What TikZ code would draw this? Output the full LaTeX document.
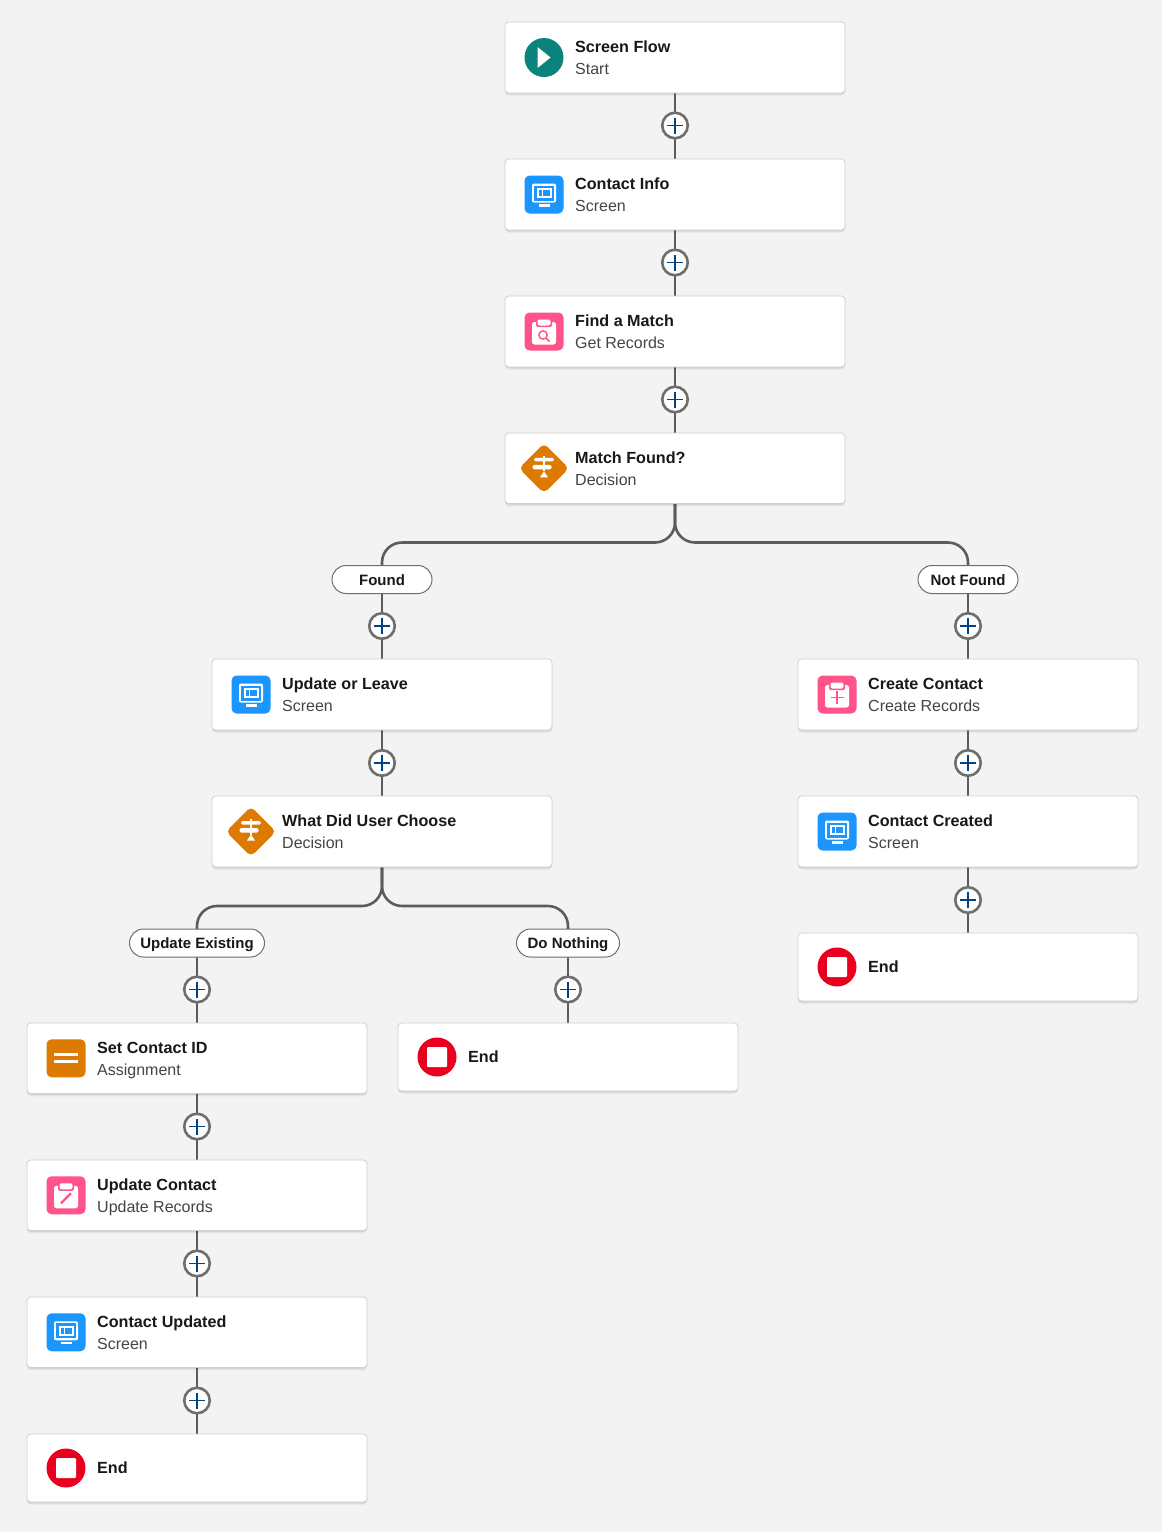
\documentclass[tikz,border=0pt]{standalone}
\usepackage{fontspec}
\setmainfont{Liberation Sans}
\usetikzlibrary{shadows}
\pgfdeclarelayer{edges}
\pgfsetlayers{edges,main}
\definecolor{pagebg}{HTML}{F3F3F3}
\definecolor{edgegray}{HTML}{5C5C5C}
\definecolor{ringgray}{HTML}{706E6B}
\definecolor{plusblue}{HTML}{014486}
\definecolor{cardline}{HTML}{D0D0D0}
\definecolor{startteal}{HTML}{0B827C}
\definecolor{screenblue}{HTML}{1B96FF}
\definecolor{recpink}{HTML}{FF538A}
\definecolor{decorange}{HTML}{DD7A01}
\definecolor{endred}{HTML}{EA001E}
\definecolor{titleink}{HTML}{181818}
\definecolor{subink}{HTML}{444444}
\tikzset{
  x=1pt,y=-1pt,
  cardbox/.style={rectangle,rounded corners=3.5pt,fill=white,draw=cardline,line width=.8pt,
    minimum width=340pt,inner sep=0pt,outer sep=0pt,
    general shadow={fill=black,opacity=.03,shadow yshift=-3pt},
    general shadow={fill=black,opacity=.05,shadow yshift=-2pt},
    general shadow={fill=black,opacity=.07,shadow yshift=-1pt}},
  cardtitle/.style={anchor=base west,inner sep=0pt,font=\fontsize{16.15}{19}\selectfont\bfseries,text=titleink},
  cardsub/.style={anchor=base west,inner sep=0pt,font=\fontsize{16}{19}\selectfont,text=subink},
  plusbtn/.style={circle,fill=white,draw=ringgray,line width=2.6pt,minimum size=25.5pt,inner sep=0pt,outer sep=0pt},
  pill/.style={rectangle,rounded corners=14pt,fill=white,draw=ringgray,line width=1pt,minimum height=28pt,
    inner sep=0pt,outer sep=0pt,text height=13pt,text depth=2pt,font=\fontsize{15}{18}\selectfont\bfseries,text=titleink},
  link/.style={draw=edgegray,line width=2.6pt},
}
\newcommand\iconStart[2]{\begin{scope}[shift={(#1,#2)}]
  \fill[startteal] (0,0) circle (19.5);
  \fill[white] (-6.5,-10.5) -- (6.5,0) -- (-6.5,10.5) -- cycle;
\end{scope}}
\newcommand\iconEnd[2]{\begin{scope}[shift={(#1,#2)}]
  \fill[endred] (0,0) circle (19.5);
  \fill[white,rounded corners=1pt] (-10,-10) rectangle (10,10);
\end{scope}}
\newcommand\iconScreen[2]{\begin{scope}[shift={(#1,#2)}]
  \fill[screenblue,rounded corners=5pt] (-19.5,-19) rectangle (19.5,19);
  \fill[white,rounded corners=2pt] (-12,-11) rectangle (12,8);
  \fill[screenblue] (-10,-9) rectangle (10,6);
  \fill[white] (-7.5,-6.5) rectangle (7.5,3.5);
  \fill[screenblue] (-5.5,-4.5) rectangle (-2.5,1.5);
  \fill[screenblue] (-1,-4.5) rectangle (5.5,1.5);
  \fill[white] (-5.5,9.5) rectangle (5.5,12);
\end{scope}}
\newcommand\iconClipBase{
  \fill[recpink,rounded corners=5pt] (-19.5,-19) rectangle (19.5,19);
  \fill[white,rounded corners=2.5pt] (-12,-9.5) rectangle (12,13);
  \fill[recpink,rounded corners=2pt] (-8,-13) rectangle (8,-4.5);
  \fill[white,rounded corners=2pt] (-6.5,-12) rectangle (6.5,-6);
}
\newcommand\iconGet[2]{\begin{scope}[shift={(#1,#2)}]
  \iconClipBase
  \draw[recpink,line width=1.4pt] (-1,3.5) circle (4.2);
  \draw[recpink,line width=1.6pt] (2,6.5) -- (5.5,10);
\end{scope}}
\newcommand\iconCreate[2]{\begin{scope}[shift={(#1,#2)}]
  \iconClipBase
  \draw[recpink,line width=1.4pt] (-6.5,3) -- (6.5,3) (0,-3.5) -- (0,9.5);
\end{scope}}
\newcommand\iconUpdate[2]{\begin{scope}[shift={(#1,#2)}]
  \iconClipBase
  \draw[recpink,line width=2.4pt] (-5,8) -- (5,-2);
\end{scope}}
\newcommand\iconDecision[2]{\begin{scope}[shift={(#1,#2)}]
  \fill[decorange,rounded corners=5pt] (0,-25) -- (25,0) -- (0,25) -- (-25,0) -- cycle;
  \fill[white] (-1.2,-12.5) rectangle (1.2,3);
  \fill[white,rounded corners=1.5pt] (-10,-10.5) rectangle (10,-7);
  \fill[white,rounded corners=1.5pt] (-11.5,-3.5) rectangle (7.5,1);
  \fill[white] (-4,9) -- (0,3) -- (4,9) -- cycle;
\end{scope}}
\newcommand\iconAssign[2]{\begin{scope}[shift={(#1,#2)}]
  \fill[decorange,rounded corners=5pt] (-19.5,-19) rectangle (19.5,19);
  \fill[white] (-12,-5.5) rectangle (12,-2.5);
  \fill[white] (-12,2) rectangle (12,5);
\end{scope}}
% name, centre x, top, height, icon, title, subtitle
\newcommand\flowcard[7]{
  \node[cardbox,minimum height=#4pt] (#1) at (#2,{#3+#4/2}) {};
  #5{#2-131}{#3+#4/2}
  \node[cardtitle] (#1-title) at (#2-100,#3+30.3) {#6};
  \node[cardsub] (#1-sub) at (#2-100,#3+52) {#7};
}
\newcommand\stopcard[4]{
  \node[cardbox,minimum height=#4pt] (#1) at (#2,{#3+#4/2}) {};
  \iconEnd{#2-131}{#3+#4/2}
  \node[cardtitle] (#1-title) at (#2-100,#3+39.2) {End};
}
\newcommand\plusnode[3]{
  \node[plusbtn] (#1) at (#2,#3) {};
  \draw[plusblue,line width=1.9pt] (#2-8,#3) -- (#2+8,#3) (#2,#3-8) -- (#2,#3+8);
}
\begin{document}
\begin{tikzpicture}
\begin{pgfonlayer}{edges}
  \fill[pagebg] (0,0) rectangle (1162,1532);
\end{pgfonlayer}
\useasboundingbox (0,0) rectangle (1162,1532);

% centre column
\flowcard{start}{675}{22}{71}{\iconStart}{Screen Flow}{Start}
\plusnode{p1}{675}{125.5}
\flowcard{info}{675}{159}{71}{\iconScreen}{Contact Info}{Screen}
\plusnode{p2}{675}{262.5}
\flowcard{find}{675}{296}{71}{\iconGet}{Find a Match}{Get Records}
\plusnode{p3}{675}{399.5}
\flowcard{match}{675}{433}{70.5}{\iconDecision}{Match Found?}{Decision}

% Found branch
\node[pill,minimum width=100pt] (found) at (382,579.5) {Found};
\plusnode{p4}{382}{626}
\flowcard{leave}{382}{659}{71}{\iconScreen}{Update or Leave}{Screen}
\plusnode{p5}{382}{763}
\flowcard{choose}{382}{796}{71}{\iconDecision}{What Did User Choose}{Decision}

% Not Found branch
\node[pill,minimum width=100pt] (notfound) at (968,579.5) {Not Found};
\plusnode{p6}{968}{626}
\flowcard{create}{968}{659}{71}{\iconCreate}{Create Contact}{Create Records}
\plusnode{p7}{968}{763}
\flowcard{created}{968}{796}{71}{\iconScreen}{Contact Created}{Screen}
\plusnode{p8}{968}{900}
\stopcard{endc}{968}{933}{68}

% Update Existing branch
\node[pill,minimum width=135pt] (existing) at (197,943) {Update Existing};
\plusnode{p9}{197}{989.5}
\flowcard{setid}{197}{1023}{70.5}{\iconAssign}{Set Contact ID}{Assignment}
\plusnode{p10}{197}{1126.5}
\flowcard{update}{197}{1160}{70.5}{\iconUpdate}{Update Contact}{Update Records}
\plusnode{p11}{197}{1263.5}
\flowcard{updated}{197}{1297}{70.5}{\iconScreen}{Contact Updated}{Screen}
\plusnode{p12}{197}{1400.5}
\stopcard{enda}{197}{1434}{68}

% Do Nothing branch
\node[pill,minimum width=103pt] (nothing) at (568,943) {Do Nothing};
\plusnode{p13}{568}{989.5}
\stopcard{endb}{568}{1023}{68}

\begin{pgfonlayer}{edges}
  \draw[link] (start) -- (p1) -- (info) -- (p2) -- (find) -- (p3) -- (match);
  \draw[link,rounded corners=20pt] (match.south) -- ++(0,39) -| (found.north);
  \draw[link,rounded corners=20pt] (match.south) -- ++(0,39) -| (notfound.north);
  \draw[link] (found) -- (p4) -- (leave) -- (p5) -- (choose);
  \draw[link] (notfound) -- (p6) -- (create) -- (p7) -- (created) -- (p8) -- (endc);
  \draw[link,rounded corners=20pt] (choose.south) -- ++(0,39) -| (existing.north);
  \draw[link,rounded corners=20pt] (choose.south) -- ++(0,39) -| (nothing.north);
  \draw[link] (existing) -- (p9) -- (setid) -- (p10) -- (update) -- (p11) -- (updated) -- (p12) -- (enda);
  \draw[link] (nothing) -- (p13) -- (endb);
\end{pgfonlayer}
\end{tikzpicture}
\end{document}
